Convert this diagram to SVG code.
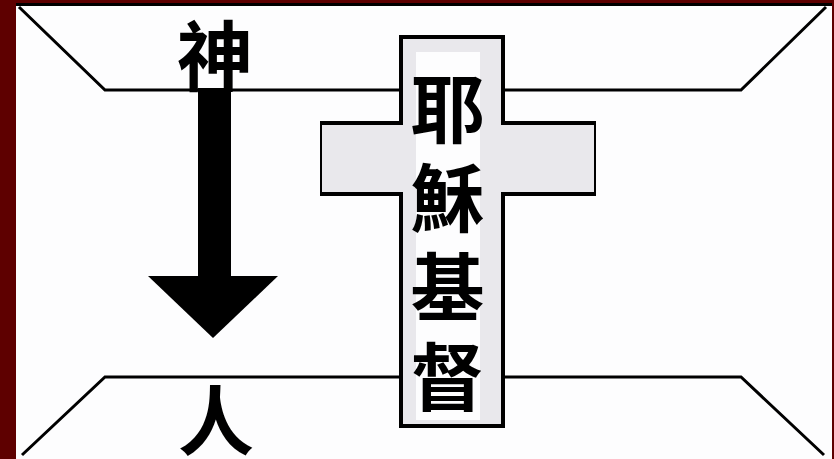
<svg xmlns="http://www.w3.org/2000/svg" width="834" height="459" viewBox="0 0 834 459">
  <style>
    .ln { stroke: #000; stroke-width: 3; fill: none; }
    .cr { fill: #e9e8ec; stroke: #000; stroke-width: 4; }
    .t { font-family: "Noto Sans CJK TC", "Noto Sans CJK SC", sans-serif; font-weight: bold; fill: #000; text-anchor: middle; }
  </style>
  <rect x="0" y="0" width="834" height="459" fill="#5e0000"/>
  <rect x="16" y="4" width="816" height="455" fill="#fdfdfe"/>
  <g id="frame">
    <line class="ln" x1="16" y1="4.5" x2="832" y2="4.5"/>
    <polyline class="ln" points="19,7 105,90 741,90 826,7"/>
    <polyline class="ln" points="22,455 105,377 741,377 824,455"/>
  </g>
  <g id="connectors">
    <rect x="198" y="88" width="33" height="190" fill="#000"/>
    <polygon points="148,276 278,276 213,338" fill="#000"/>
  </g>
  <g id="god">
    <text class="t" x="215" y="85" font-size="76">神</text>
  </g>
  <g id="man">
    <text class="t" x="216" y="449" font-size="76">人</text>
  </g>
  <g id="cross">
    <rect class="cr" x="322" y="123" width="272" height="71"/>
    <rect class="cr" x="401" y="37" width="102" height="389"/>
    <rect x="322" y="125" width="272" height="67" fill="#e9e8ec"/>
    <rect x="416" y="52" width="64" height="368" fill="#fdfdfe"/>
    <text class="t" x="447.5" y="137" font-size="74">耶</text>
    <text class="t" x="447.5" y="226" font-size="74">穌</text>
    <text class="t" x="447.5" y="315" font-size="74">基</text>
    <text class="t" x="447.5" y="405" font-size="74">督</text>
  </g>
</svg>
